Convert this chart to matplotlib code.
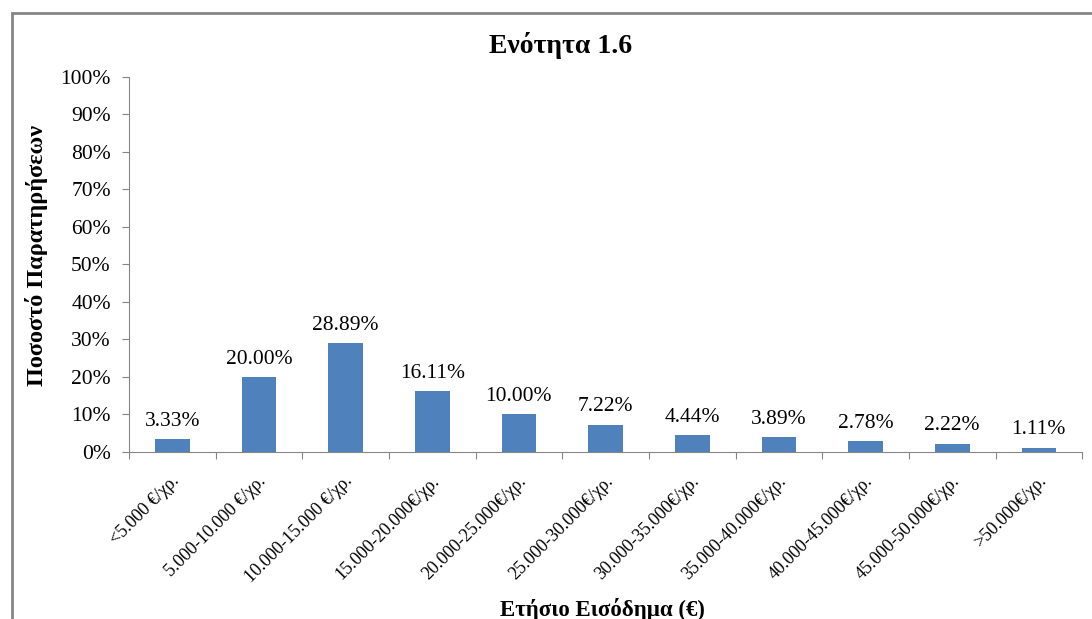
import numpy as np
import matplotlib.pyplot as plt
import matplotlib.patches as patches
import matplotlib.transforms as mtransforms
from matplotlib.ticker import PercentFormatter, FixedLocator

plt.rcParams['font.family'] = ['Liberation Serif', 'DejaVu Serif']

# Income brackets and share of observations
categories = ['<5.000 €/χρ.', '5.000-10.000 €/χρ.', '10.000-15.000 €/χρ.',
              '15.000-20.000€/χρ.', '20.000-25.000€/χρ.', '25.000-30.000€/χρ.',
              '30.000-35.000€/χρ.', '35.000-40.000€/χρ.', '40.000-45.000€/χρ.',
              '45.000-50.000€/χρ.', '>50.000€/χρ.']
shares = [3.33, 20.00, 28.89, 16.11, 10.00, 7.22, 4.44, 3.89, 2.78, 2.22, 1.11]

bar_color = '#4F81BD'
axis_color = '#868686'

fig = plt.figure(figsize=(10.92, 6.19), dpi=100)
ax = fig.add_axes([0.118, 0.270, 0.873, 0.606])

x = np.arange(len(categories))
vals = np.array(shares) / 100.0
ax.bar(x, vals, width=0.4, color=bar_color, zorder=2)

for xi, v, s in zip(x, vals, shares):
    ax.annotate(f'{s:.2f}%', (xi, v), xytext=(0, 6), textcoords='offset points',
                ha='center', va='bottom', fontsize=15.5)

ax.set_xlim(-0.5, len(categories) - 0.5)
ax.set_ylim(0, 1.0)
ax.set_yticks(np.arange(0, 1.01, 0.1))
ax.yaxis.set_major_formatter(PercentFormatter(1.0, decimals=0))

# ticks at the category boundaries, labels at the centres
ax.xaxis.set_major_locator(FixedLocator(np.arange(-0.5, len(categories), 1.0)))
ax.set_xticklabels([])
ax.tick_params(axis='x', direction='out', length=5, color=axis_color)
ax.tick_params(axis='y', direction='out', length=5, color=axis_color, labelsize=15.5, pad=8)

offset = mtransforms.ScaledTranslation(-1 / 72, -15 / 72, fig.dpi_scale_trans)
for xi, lab in zip(x, categories):
    ax.text(xi, 0, lab, transform=ax.get_xaxis_transform() + offset,
            rotation=45, ha='right', va='top', rotation_mode='anchor', fontsize=13)

for side in ['top', 'right']:
    ax.spines[side].set_visible(False)
for side in ['left', 'bottom']:
    ax.spines[side].set_color(axis_color)

fig.text(0.513, 0.927, 'Ενότητα 1.6', ha='center', va='center', fontsize=20, fontweight='bold')
fig.text(0.033, 0.588, 'Ποσοστό Παρατηρήσεων', ha='center', va='center', rotation=90,
         fontsize=17.5, fontweight='bold')
fig.text(0.552, 0.016, 'Ετήσιο Εισόδημα (€)', ha='center', va='center',
         fontsize=16.5, fontweight='bold')

# chart frame (cut off at right and bottom in the original)
frame = patches.Rectangle((12 / 1092, -0.05), 1.2, 1 - 13 / 619 + 0.05,
                          transform=fig.transFigure, fill=False,
                          edgecolor='#868686', linewidth=2)
fig.patches.append(frame)

fig.savefig('out.png', dpi=100)
